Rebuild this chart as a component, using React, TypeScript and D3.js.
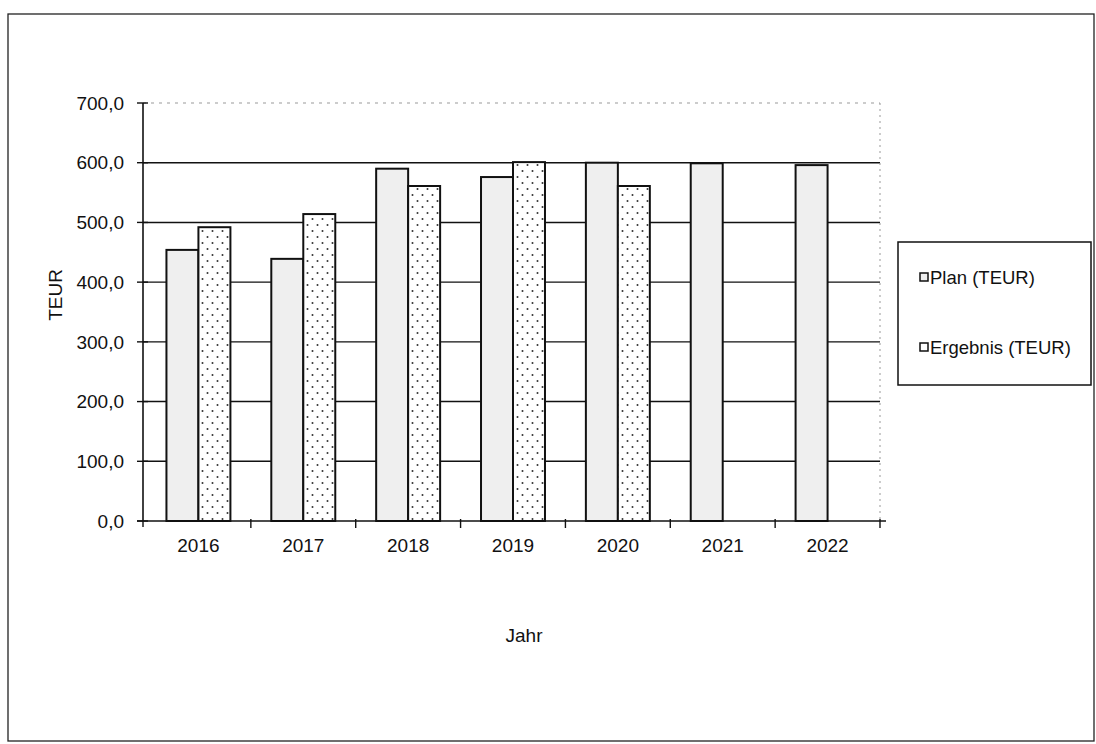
import React from "react";
import * as d3 from "d3";

const years = ["2016", "2017", "2018", "2019", "2020", "2021", "2022"];
const planValues = [454, 439, 590, 576, 600, 599, 596];
const ergebnisValues: (number | null)[] = [492, 514, 561, 601, 561, null, null];
const yTicks = [0, 100, 200, 300, 400, 500, 600, 700];
const seriesNames = ["Plan (TEUR)", "Ergebnis (TEUR)"];

const W = 1096;
const H = 744;
const FONT = "'Liberation Sans', Arial, sans-serif";

const locale = d3.formatLocale({ decimal: ",", thousands: ".", grouping: [3], currency: ["", " €"] });
const fmt = locale.format(".1f");

export default function App() {
  const x0 = 146, x1 = 880, yTop = 103, yBot = 521, axisX = 143;
  const x = d3.scaleBand<string>().domain(years).range([x0, x1]).paddingInner(0.39).paddingOuter(0.195);
  const xs = d3.scaleBand<string>().domain(["plan", "erg"]).range([0, x.bandwidth()]);
  const y = d3.scaleLinear().domain([0, 700]).range([yBot, yTop]);
  const step = x.step();
  const boundaries = d3.range(1, years.length + 1).map((i) => x0 + step * i);

  return (
    <svg width={W} height={H} style={{ position: "absolute", left: 0, top: 0, background: "#fff" }} fontFamily={FONT}>
      <defs>
        <pattern id="dots" width="10" height="12" patternUnits="userSpaceOnUse">
          <rect width="10" height="12" fill="#fff" />
          <circle cx="2.5" cy="3" r="1" fill="#333" />
          <circle cx="7.5" cy="9" r="1" fill="#333" />
        </pattern>
      </defs>
      {/* outer frame */}
      <rect x={8} y={14} width={1086} height={727} fill="none" stroke="#222" strokeWidth={1.3} />

      {/* gridlines */}
      {yTicks.filter((t) => t > 0 && t < 700).map((t) => (
        <line key={t} x1={axisX} x2={x1} y1={y(t)} y2={y(t)} stroke="#111" strokeWidth={1.4} />
      ))}
      {/* dotted plot border top & right */}
      <line x1={axisX} x2={x1} y1={y(700)} y2={y(700)} stroke="#999" strokeWidth={1} strokeDasharray="3,5" />
      <line x1={x1} x2={x1} y1={y(700)} y2={yBot} stroke="#999" strokeWidth={1} strokeDasharray="2,4" />

      {/* bars */}
      {years.map((yr, i) => (
        <g key={yr}>
          <rect
            x={(x(yr) as number) + (xs("plan") as number)}
            y={y(planValues[i])}
            width={xs.bandwidth()}
            height={yBot - y(planValues[i])}
            fill="#efefef"
            stroke="#111"
            strokeWidth={2}
          />
          {ergebnisValues[i] != null && (
            <rect
              x={(x(yr) as number) + (xs("erg") as number)}
              y={y(ergebnisValues[i] as number)}
              width={xs.bandwidth()}
              height={yBot - y(ergebnisValues[i] as number)}
              fill="url(#dots)"
              stroke="#111"
              strokeWidth={2}
            />
          )}
        </g>
      ))}

      {/* y axis */}
      <line x1={axisX} x2={axisX} y1={yTop} y2={yBot} stroke="#111" strokeWidth={1.6} />
      {yTicks.map((t) => (
        <g key={t}>
          <line x1={axisX - 6} x2={axisX + 5} y1={y(t)} y2={y(t)} stroke="#111" strokeWidth={1.4} />
          <text x={124} y={y(t)} dy="0.35em" textAnchor="end" fontSize={19} fill="#111">
            {fmt(t)}
          </text>
        </g>
      ))}

      {/* x axis */}
      <line x1={axisX - 6} x2={x1 + 6} y1={yBot} y2={yBot} stroke="#111" strokeWidth={1.6} />
      <line x1={axisX} x2={axisX} y1={yBot} y2={yBot + 6} stroke="#111" strokeWidth={1.4} />
      {boundaries.map((bx, i) => (
        <line key={i} x1={bx} x2={bx} y1={yBot - 2} y2={yBot + 7} stroke="#111" strokeWidth={1.4} />
      ))}
      {years.map((yr) => (
        <text key={yr} x={(x(yr) as number) + x.bandwidth() / 2} y={552} textAnchor="middle" fontSize={19} fill="#111">
          {yr}
        </text>
      ))}

      {/* axis titles */}
      <text x={524} y={642} textAnchor="middle" fontSize={19} fill="#111">Jahr</text>
      <text transform="translate(62,295) rotate(-90)" textAnchor="middle" fontSize={19} fill="#111">TEUR</text>

      {/* legend */}
      <rect x={898} y={242} width={193} height={143} fill="#fff" stroke="#111" strokeWidth={1.5} />
      {seriesNames.map((s, i) => (
        <g key={s}>
          <rect x={920} y={273 + i * 70} width={8} height={8} fill={i === 0 ? "#efefef" : "#fff"} stroke="#111" strokeWidth={1.5} />
          <text x={930} y={284 + i * 70} fontSize={18.5} fill="#111">{s}</text>
        </g>
      ))}
    </svg>
  );
}
